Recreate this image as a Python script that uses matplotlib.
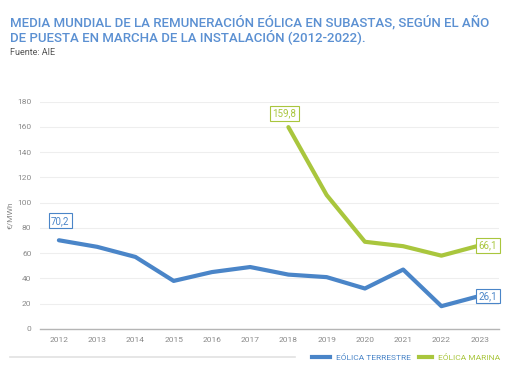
import matplotlib.pyplot as plt
from matplotlib.lines import Line2D

years = [2012, 2013, 2014, 2015, 2016, 2017, 2018, 2019, 2020, 2021, 2022, 2023]
terrestre = [70.2, 65, 57, 38, 45, 49, 43, 41, 32, 47, 18, 26.1]
marina_years = [2018, 2019, 2020, 2021, 2022, 2023]
marina = [159.8, 106, 69, 65.5, 58, 66.1]
yticks = [0, 20, 40, 60, 80, 100, 120, 140, 160, 180]

blue = '#4a85c8'
green = '#a9c63d'
grey = '#8a8a8a'
plt.rcParams['font.family'] = ['Roboto', 'DejaVu Sans']

fig = plt.figure(figsize=(5.1, 3.82), dpi=100)
ax = fig.add_axes([0.078, 0.139, 0.900, 0.595])

ax.plot(years, terrestre, color=blue, lw=3, solid_capstyle='round', zorder=3)
ax.plot(marina_years, marina, color=green, lw=3, solid_capstyle='round', zorder=3)

ax.set_xlim(2011.5, 2023.5)
ax.set_ylim(0, 180)
ax.set_xticks(years)
ax.set_yticks(yticks)
ax.tick_params(length=0, labelsize=6, colors=grey, pad=6)
for s in ['top', 'right', 'left']:
    ax.spines[s].set_visible(False)
ax.spines['bottom'].set_color('#b5b5b5')
ax.spines['bottom'].set_linewidth(1)
ax.grid(axis='y', color='#eeeeee', lw=0.8)
ax.set_axisbelow(True)
ax.set_ylabel('€/MWh', fontsize=6, color=grey, labelpad=3)

def tag(x, y, txt, col, dx, dy):
    ax.annotate(txt, (x, y), xytext=(dx, dy), textcoords='offset points',
                ha='center', va='center', fontsize=7, color=col,
                bbox=dict(boxstyle='square,pad=0.25', fc='white', ec=col, lw=0.8),
                zorder=5, annotation_clip=False)

tag(years[0], terrestre[0], '70,2', blue, 1, 14)
tag(marina_years[0], marina[0], '159,8', green, -3, 10)
tag(marina_years[-1], marina[-1], '66,1', green, 6, 0)
tag(years[-1], terrestre[-1], '26,1', blue, 6, 0)

fig.text(0.02, 0.942, 'MEDIA MUNDIAL DE LA REMUNERACIÓN EÓLICA EN SUBASTAS, SEGÚN EL AÑO',
         fontsize=9.5, color='#5b90d2', va='center', fontweight='medium')
fig.text(0.02, 0.903, 'DE PUESTA EN MARCHA DE LA INSTALACIÓN (2012-2022).',
         fontsize=9.5, color='#5b90d2', va='center', fontweight='medium')
fig.text(0.02, 0.862, 'Fuente: AIE', fontsize=6.5, color='#555555', va='center')

# legend row
fig.add_artist(Line2D([0.02, 0.578], [0.065, 0.065], color='#e2e2e2', lw=1.2))
fig.add_artist(Line2D([0.612, 0.648], [0.065, 0.065], color=blue, lw=3))
fig.text(0.658, 0.065, 'EÓLICA TERRESTRE', fontsize=6, color=blue, va='center')
fig.add_artist(Line2D([0.822, 0.848], [0.065, 0.065], color=green, lw=3))
fig.text(0.858, 0.065, 'EÓLICA MARINA', fontsize=6, color=green, va='center')

fig.savefig('out.png', dpi=100, facecolor='white')
